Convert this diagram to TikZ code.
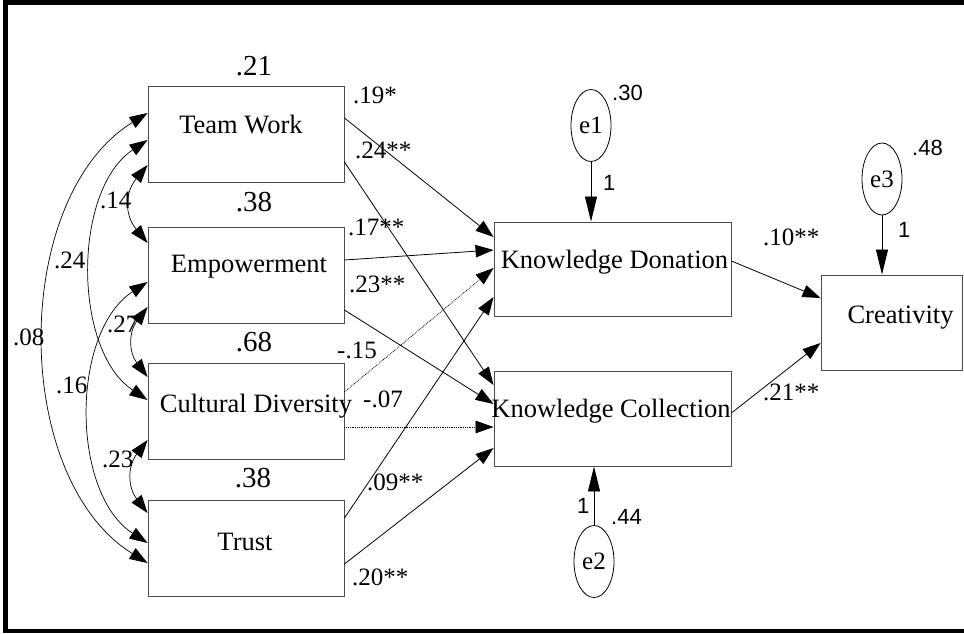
\documentclass[tikz,border=0pt]{standalone}
\usepackage{fontspec}
\setmainfont{Liberation Serif}
\newfontfamily\arialfont{Liberation Sans}
\usetikzlibrary{arrows.meta,shapes.geometric}
\begin{document}
\begin{tikzpicture}[x=1pt,y=-1pt,
  box/.style={draw=black!70, line width=0.9pt, minimum width=196pt, minimum height=96pt, inner sep=0pt},
  rbox/.style={draw=black!70, line width=0.9pt, minimum width=237pt, minimum height=95pt, inner sep=0pt},
  boxtext/.style={font=\fontsize{26.5}{30}\selectfont, anchor=base, inner sep=0pt},
  varnum/.style={font=\fontsize{29}{32}\selectfont, anchor=center, inner sep=0pt},
  coef/.style={font=\fontsize{25}{28}\selectfont, anchor=base west, inner sep=0pt},
  sanslab/.style={font=\arialfont\fontsize{22}{26}\selectfont, anchor=base west, inner sep=0pt},
  err/.style={draw, line width=0.8pt, ellipse, minimum width=40pt, minimum height=72pt, inner sep=0pt, font=\fontsize{25}{28}\selectfont},
  pathline/.style={-{Triangle[length=18pt,width=12.5pt]}, line width=0.8pt},
  dpath/.style={pathline, densely dotted},
  errline/.style={-{Triangle[length=25pt,width=12pt]}, line width=0.8pt},
  cov/.style={{Triangle[length=18pt,width=12.5pt]}-{Triangle[length=18pt,width=12.5pt]}, line width=0.7pt}
]
\useasboundingbox (0,0) rectangle (964,634);
\draw[line width=4.5pt] (5.5,2.5) rectangle (968,631);

% left boxes
\node[box] (tw) at (246,134) {};
\node[box] (em) at (246,275.5) {};
\node[box] (cd) at (246,411) {};
\node[box] (tr) at (246,548.5) {};
\node[boxtext] (twt) at (241,133) {Team Work};
\node[boxtext] (emt) at (249,272) {Empowerment};
\node[boxtext] (cdt) at (256,412) {Cultural Diversity};
\node[boxtext] (trt) at (245,550) {Trust};

% variance numbers
\node[varnum] (v1) at (254,66) {.21};
\node[varnum] (v2) at (254,202) {.38};
\node[varnum] (v3) at (254,342) {.68};
\node[varnum] (v4) at (253,478) {.38};

% right boxes
\node[rbox, minimum height=94pt] (kd) at (612.5,269) {};
\node[rbox] (kc) at (612.5,418.5) {};
\node[draw=black!70, line width=0.9pt, minimum width=141pt, minimum height=95pt, inner sep=0pt] (cr) at (891.5,322.5) {};
\node[boxtext] (kdt) at (614.5,268) {Knowledge Donation};
\node[boxtext] (kct) at (611,417) {Knowledge Collection};
\node[boxtext] (crt) at (900.5,323) {Creativity};

% error terms
\node[err] (e1) at (591,125.5) {e1};
\node[err] (e2) at (594,561.5) {e2};
\node[err] (e3) at (882,179) {e3};
\draw[errline] (e1.south) -- (e1.south |- kd.north);
\draw[errline] (e2.north) -- (e2.north |- kc.south);
\draw[errline] (e3.south) -- (e3.south |- cr.north);
\node[sanslab] (l30) at (612,100) {.30};
\node[sanslab] (l1a) at (603,190) {1};
\node[sanslab] (l1b) at (577,513) {1};
\node[sanslab] (l44) at (611,524) {.44};
\node[sanslab] (l48) at (912,155) {.48};
\node[sanslab] (l1c) at (898,237) {1};

% paths
\draw[pathline] ([yshift=16pt]tw.east) -- ([yshift=32pt]kd.west);
\draw[pathline] ([yshift=-28pt]tw.east) -- ([yshift=33.5pt]kc.west);
\draw[pathline] ([yshift=15.5pt]em.east) -- ([yshift=19pt]kd.west);
\draw[pathline] ([yshift=-34.5pt]em.east) -- ([yshift=14.5pt]kc.west);
\draw[dpath] ([yshift=19pt]cd.east) -- ([yshift=1pt]kd.west);
\draw[dpath] ([yshift=-16pt]cd.east) -- ([yshift=-8.5pt]kc.west);
\draw[pathline] ([yshift=30.5pt]tr.east) -- ([yshift=-28pt]kd.west);
\draw[pathline] ([yshift=-15.5pt]tr.east) -- ([yshift=-29.5pt]kc.west);
\draw[pathline] ([yshift=8pt]kd.east) -- ([yshift=24.5pt]cr.west);
\draw[pathline] ([yshift=5.5pt]kc.east) -- ([yshift=-20.5pt]cr.west);

\node[coef] (c1) at (353,103) {.19*};
\node[coef] (c2) at (355,158) {.24**};
\node[coef] (c3) at (348,235) {.17**};
\node[coef] (c4) at (349,292) {.23**};
\node[coef] (c5) at (337,358) {-.15};
\node[coef] (c6) at (363,407) {-.07};
\node[coef] (c7) at (367,490) {.09**};
\node[coef] (c8) at (352,585) {.20**};
\node[coef] (c9) at (763,245) {.10**};
\node[coef] (c10) at (763,400) {.21**};

% covariances
\draw[cov] ([yshift=21pt]tw.west) .. controls +(-137,85) and +(-137,-85) .. ([yshift=-14.5pt]tr.west);
\draw[cov] ([yshift=-6pt]tw.west) .. controls +(-75,50) and +(-75,-50) .. ([yshift=11pt]cd.west);
\draw[cov] ([yshift=-6.5pt]em.west) .. controls +(-77,50) and +(-77,-50) .. ([yshift=5.5pt]tr.west);
\draw[cov] ([yshift=-31pt]tw.west) .. controls +(-23,28) and +(-23,-28) .. ([yshift=32.5pt]em.west);
\draw[cov] ([yshift=-31.5pt]em.west) .. controls +(-19,25) and +(-19,-25) .. ([yshift=34pt]cd.west);
\draw[cov] ([yshift=-29pt]cd.west) .. controls +(-20,26) and +(-20,-26) .. ([yshift=35.5pt]tr.west);

\node[coef] (k1) at (100,208) {.14};
\node[coef] (k2) at (54,268) {.24};
\node[coef] (k3) at (13,345) {.08};
\node[coef] (k4) at (107,332) {.27};
\node[coef] (k5) at (56,393) {.16};
\node[coef] (k6) at (102,467) {.23};
\end{tikzpicture}
\end{document}
